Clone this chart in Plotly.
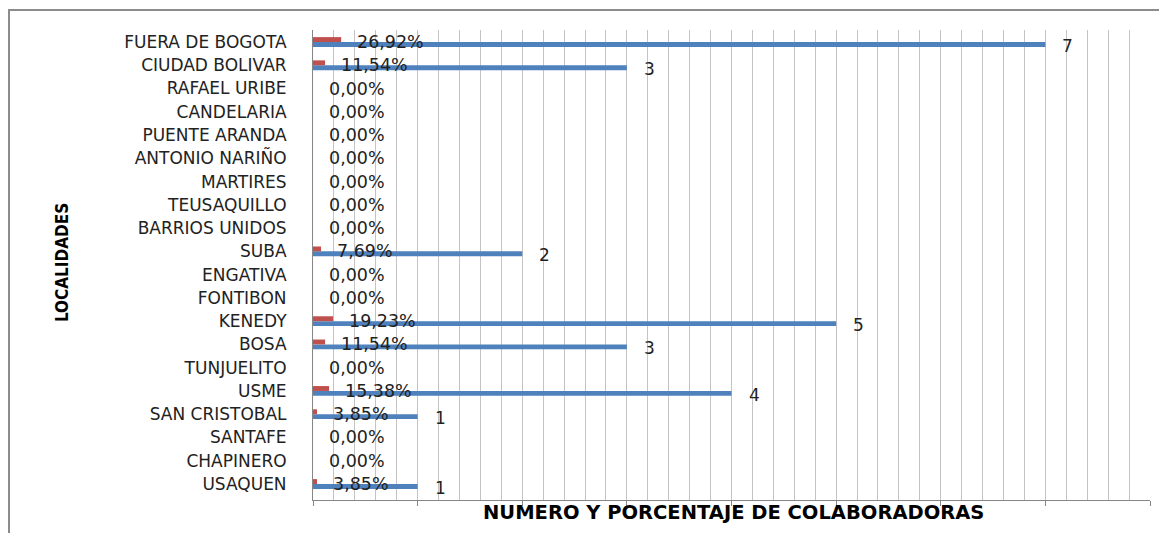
"""Gráfico de colaboradoras por localidad (número y porcentaje)."""

import plotly.graph_objects as go

# Localidades de abajo hacia arriba (así quedan como en el gráfico original)
localidades = [
    "USAQUEN", "CHAPINERO", "SANTAFE", "SAN CRISTOBAL", "USME",
    "TUNJUELITO", "BOSA", "KENEDY", "FONTIBON", "ENGATIVA", "SUBA",
    "BARRIOS UNIDOS", "TEUSAQUILLO", "MARTIRES", "ANTONIO NARIÑO",
    "PUENTE ARANDA", "CANDELARIA", "RAFAEL URIBE", "CIUDAD BOLIVAR",
    "FUERA DE BOGOTA",
]
numero = [1, 0, 0, 1, 4, 0, 3, 5, 0, 0, 2, 0, 0, 0, 0, 0, 0, 0, 3, 7]
porcentaje = [0.0385, 0, 0, 0.0385, 0.1538, 0, 0.1154, 0.1923, 0, 0, 0.0769,
              0, 0, 0, 0, 0, 0, 0, 0.1154, 0.2692]

AZUL = "#4F81BD"
ROJO = "#C0504D"
GRIS = "#C4C4C4"
FUENTE = "DejaVu Sans"
FUENTE_TITULO = "Liberation Sans Narrow, Arial Narrow, DejaVu Sans Condensed, sans-serif"


def pct_label(p):
    return f"{p * 100:.2f}%".replace(".", ",")


def make_figure() -> go.Figure:
    fig = go.Figure()

    # Serie 1: número de colaboradoras (queda abajo dentro del grupo)
    fig.add_trace(go.Bar(
        y=localidades, x=numero, orientation="h",
        marker=dict(color=AZUL, line=dict(width=0)),
        name="Número", showlegend=False,
    ))
    # Serie 2: porcentaje (queda arriba)
    fig.add_trace(go.Bar(
        y=localidades, x=porcentaje, orientation="h",
        marker=dict(color=ROJO, line=dict(width=0)),
        name="Porcentaje", showlegend=False,
    ))

    # Etiquetas de datos
    anotaciones = []
    for loc, n, p in zip(localidades, numero, porcentaje):
        anotaciones.append(dict(
            x=p, y=loc, xref="x", yref="y", text=pct_label(p),
            showarrow=False, xanchor="left", yanchor="middle",
            xshift=14, yshift=0,
            font=dict(family=FUENTE, size=17.5, color="#222222"),
        ))
        if n > 0:
            anotaciones.append(dict(
                x=n, y=loc, xref="x", yref="y", text=str(n),
                showarrow=False, xanchor="left", yanchor="middle",
                xshift=15, yshift=-4,
                font=dict(family=FUENTE, size=17, color="#222222"),
            ))

    # Títulos de ejes como anotaciones (posición más precisa)
    anotaciones.append(dict(
        x=-0.30, y=0.506, xref="paper", yref="paper", text="<b>LOCALIDADES</b>",
        textangle=-90, showarrow=False, xanchor="center", yanchor="middle",
        font=dict(family=FUENTE_TITULO, size=17, color="black"),
    ))
    anotaciones.append(dict(
        x=0.502, y=-0.027, xref="paper", yref="paper",
        text="<b>NUMERO Y PORCENTAJE DE COLABORADORAS</b>",
        showarrow=False, xanchor="center", yanchor="middle",
        font=dict(family=FUENTE, size=19.5, color="black"),
    ))

    # Borde del área del gráfico (recortado como en la imagen)
    fig.add_shape(
        type="rect", xref="paper", yref="paper",
        x0=-0.3632, x1=1.2, y0=-0.2, y1=1.0426,
        line=dict(color="#8C8C8C", width=2), fillcolor="rgba(0,0,0,0)",
        layer="below",
    )

    # La página tiene 8 px de margen, se compensa en los márgenes
    fig.update_layout(
        width=1151, height=525,
        barmode="group", bargap=0.58, bargroupgap=0,
        plot_bgcolor="white", paper_bgcolor="white",
        margin=dict(l=305, r=9, t=22, b=33, autoexpand=False),
        annotations=anotaciones,
        font=dict(family=FUENTE, color="#222222"),
    )
    fig.update_xaxes(
        range=[0, 8], dtick=1, showticklabels=False,
        ticks="outside", ticklen=5, tickcolor="#868686",
        showgrid=True, gridcolor=GRIS, gridwidth=1,
        minor=dict(dtick=0.2, showgrid=True, gridcolor=GRIS, gridwidth=1),
        showline=True, linecolor="#868686", linewidth=1,
        zeroline=False, fixedrange=True,
    )
    fig.update_yaxes(
        type="category", categoryorder="array", categoryarray=localidades,
        showline=True, linecolor="#868686", linewidth=1,
        ticks="", showgrid=False, ticklabelstandoff=22,
        tickfont=dict(family=FUENTE, size=17, color="#222222"),
        fixedrange=True,
    )
    return fig


fig = make_figure()
fig.write_html("out.html")
